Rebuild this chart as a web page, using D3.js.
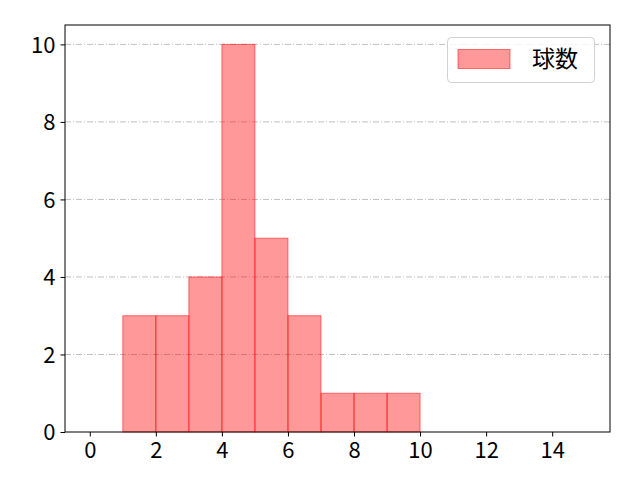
<!DOCTYPE html>
<html><head><meta charset="utf-8">
<script src="https://cdn.jsdelivr.net/npm/d3@7"></script>
<style>body{margin:0;background:#fff}text{font-family:"Noto Sans CJK JP","DejaVu Sans",sans-serif}</style>
</head><body>
<svg id="c" width="640" height="480"></svg>
<script>
const binStarts = [1,2,3,4,5,6,7,8,9];
const counts = [3,3,4,10,5,3,1,1,1];
const xTicks = [0,2,4,6,8,10,12,14];
const yTicks = [0,2,4,6,8,10];
const seriesName = "球数";

const svg = d3.select("#c");
const L=65,R=610,T=25,B=432;
const x = d3.scaleLinear().domain([-0.75,15.75]).range([L,R]);
const y = d3.scaleLinear().domain([0,10.5]).range([B,T]);

// grid
svg.append("g").selectAll("line").data(yTicks.filter(d=>d>0)).join("line")
  .attr("x1",L).attr("x2",R).attr("y1",d=>y(d)).attr("y2",d=>y(d))
  .attr("stroke","#b0b0b0").attr("stroke-width",0.8).attr("stroke-dasharray","6,2,1,2");

// bars
svg.append("g").selectAll("rect").data(binStarts).join("rect")
  .attr("x",(d)=>x(d)).attr("width",d=>x(d+1)-x(d))
  .attr("y",(d,i)=>y(counts[i])).attr("height",(d,i)=>y(0)-y(counts[i]))
  .attr("fill","rgba(255,0,0,0.4)").attr("stroke","rgba(255,0,0,0.5)").attr("stroke-width",1);

// axes
const xa = svg.append("g").attr("transform",`translate(0,${B})`)
  .call(d3.axisBottom(x).tickValues(xTicks).tickSize(4.5).tickPadding(4).tickFormat(d3.format("d")));
const ya = svg.append("g").attr("transform",`translate(${L},0)`)
  .call(d3.axisLeft(y).tickValues(yTicks).tickSize(4.5).tickPadding(5).tickFormat(d3.format("d")));
[xa,ya].forEach(a=>{a.select(".domain").remove();a.selectAll("line").attr("stroke","#000").attr("stroke-width",1);
  a.selectAll("text").attr("font-size",22).attr("fill","#000");});
xa.selectAll("text").attr("dy","0.78em");
ya.selectAll("text").attr("dy","0.35em");
svg.append("rect").attr("x",L).attr("y",T).attr("width",R-L).attr("height",B-T)
  .attr("fill","none").attr("stroke","#000").attr("stroke-width",1);

// legend
const lg = svg.append("g");
lg.append("rect").attr("x",447.5).attr("y",37.5).attr("width",147).attr("height",45).attr("rx",4)
  .attr("fill","rgba(255,255,255,0.8)").attr("stroke","#d0d0d0");
lg.append("rect").attr("x",458).attr("y",49.5).attr("width",52).attr("height",19)
  .attr("fill","rgba(255,0,0,0.4)").attr("stroke","rgba(255,0,0,0.5)");
lg.append("text").attr("x",532).attr("y",67).attr("font-size",23).attr("fill","#000").text(seriesName);
</script>
</body></html>
